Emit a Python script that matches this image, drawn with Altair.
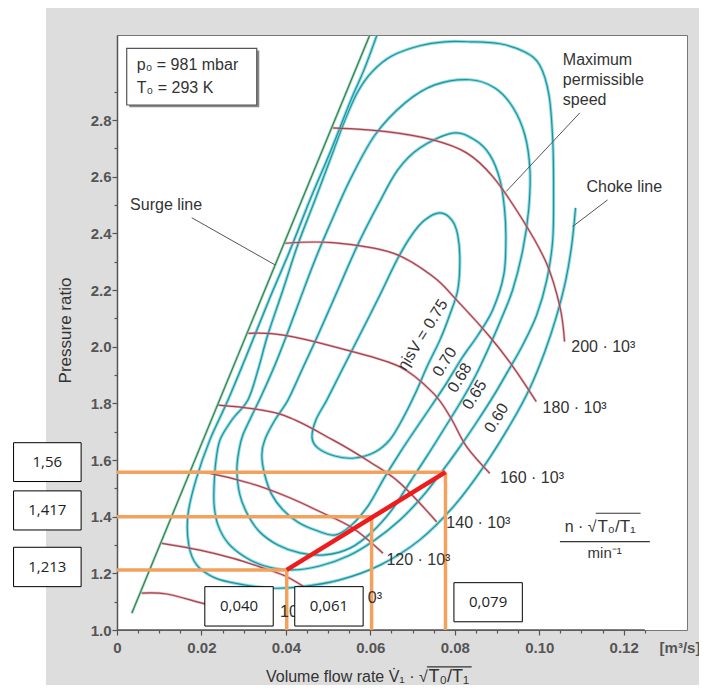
import altair as alt
import pandas as pd

FONT = "Liberation Sans"

# ---------------- values ----------------
# surge line
surge_x = [0.0035, 0.0598]
surge_y = [1.059, 3.097]

# speed lines  n*sqrt(T0/T1)  [min^-1]
r80_x = [0.0058, 0.0118, 0.0204, 0.0279]
r80_y = [1.130, 1.127, 1.094, 1.067]
r100_x = [0.0106, 0.0196, 0.0275, 0.0338, 0.0402, 0.0462]
r100_y = [1.306, 1.282, 1.253, 1.223, 1.188, 1.134]
r120_x = [0.0173, 0.0220, 0.0315, 0.0402, 0.0480, 0.0559, 0.0630]
r120_y = [1.559, 1.553, 1.518, 1.471, 1.418, 1.359, 1.271]
r140_x = [0.0239, 0.0386, 0.0511, 0.0599, 0.0670, 0.0757]
r140_y = [1.794, 1.762, 1.671, 1.593, 1.519, 1.382]
r160_x = [0.0311, 0.0394, 0.0544, 0.0670, 0.0749, 0.0790, 0.0828, 0.0883]
r160_y = [2.047, 2.041, 1.988, 1.929, 1.836, 1.750, 1.647, 1.553]
r180_x = [0.0398, 0.0512, 0.0654, 0.0749, 0.0804, 0.0883, 0.0938, 0.0993]
r180_y = [2.365, 2.367, 2.330, 2.247, 2.165, 2.035, 1.929, 1.806]
r200_x = [0.0511, 0.0638, 0.0748, 0.0828, 0.0890, 0.0961, 0.1017, 0.1049, 0.1060]
r200_y = [2.772, 2.759, 2.730, 2.684, 2.600, 2.447, 2.295, 2.141, 2.018]

# efficiency contours (closed islands)
c75_x = [0.0765, 0.0793, 0.0807, 0.0812, 0.0807, 0.0788, 0.0765, 0.0736, 0.0705, 0.0675,
         0.0646, 0.0611, 0.0563, 0.0516, 0.0476, 0.0462, 0.0471, 0.0497, 0.0533, 0.0575,
         0.0623, 0.0663, 0.0698, 0.0729]
c75_y = [2.472, 2.447, 2.394, 2.306, 2.200, 2.112, 2.024, 1.935, 1.830, 1.741,
         1.671, 1.628, 1.607, 1.614, 1.642, 1.678, 1.741, 1.812, 1.918, 2.041,
         2.183, 2.306, 2.394, 2.447]
c70_x = [0.0795, 0.0847, 0.0883, 0.0907, 0.0918, 0.0921, 0.0916, 0.0890, 0.0855, 0.0817,
         0.0782, 0.0746, 0.0709, 0.0671, 0.0633, 0.0596, 0.0556, 0.0516, 0.0469, 0.0428,
         0.0393, 0.0367, 0.0350, 0.0343, 0.0350, 0.0374, 0.0405, 0.0438, 0.0476, 0.0523,
         0.0570, 0.0618, 0.0665, 0.0717]
c70_y = [2.754, 2.730, 2.677, 2.589, 2.483, 2.377, 2.253, 2.130, 2.041, 1.960,
         1.875, 1.794, 1.713, 1.628, 1.537, 1.441, 1.371, 1.335, 1.353, 1.381,
         1.424, 1.477, 1.547, 1.618, 1.671, 1.741, 1.812, 1.918, 2.041, 2.200,
         2.359, 2.500, 2.624, 2.701]
c68_x = [0.0836, 0.0895, 0.0937, 0.0966, 0.0978, 0.0975, 0.0961, 0.0937, 0.0907, 0.0878,
         0.0850, 0.0817, 0.0776, 0.0736, 0.0694, 0.0651, 0.0604, 0.0552, 0.0492, 0.0433,
         0.0381, 0.0338, 0.0310, 0.0291, 0.0284, 0.0289, 0.0298, 0.0320, 0.0343, 0.0374,
         0.0402, 0.0433, 0.0469, 0.0504, 0.0552, 0.0611, 0.0682, 0.0753]
c68_y = [2.942, 2.913, 2.846, 2.747, 2.624, 2.483, 2.341, 2.200, 2.087, 1.988,
         1.900, 1.812, 1.713, 1.618, 1.522, 1.424, 1.346, 1.289, 1.265, 1.272,
         1.300, 1.346, 1.406, 1.477, 1.565, 1.635, 1.688, 1.759, 1.830, 1.935,
         2.041, 2.165, 2.306, 2.430, 2.589, 2.747, 2.860, 2.924]
c65_x = [0.0836, 0.0907, 0.0966, 0.1001, 0.1023, 0.1032, 0.1034, 0.1032, 0.1018, 0.0994,
         0.0961, 0.0925, 0.0890, 0.0852, 0.0812, 0.0769, 0.0722, 0.0670, 0.0611, 0.0547,
         0.0480, 0.0414, 0.0350, 0.0303, 0.0263, 0.0239, 0.0230, 0.0230, 0.0234, 0.0244,
         0.0272, 0.0310, 0.0334, 0.0357, 0.0393, 0.0428, 0.0469, 0.0509, 0.0540, 0.0570,
         0.0604, 0.0651, 0.0717, 0.0776]
c65_y = [3.076, 3.069, 3.040, 2.994, 2.889, 2.730, 2.553, 2.377, 2.236, 2.112,
         2.006, 1.911, 1.822, 1.734, 1.646, 1.558, 1.469, 1.388, 1.318, 1.261,
         1.226, 1.212, 1.226, 1.258, 1.307, 1.371, 1.441, 1.512, 1.593, 1.671,
         1.741, 1.812, 1.918, 2.041, 2.200, 2.359, 2.518, 2.677, 2.800, 2.899,
         2.970, 3.026, 3.062, 3.076]
# outermost contour, open, ending in the choke line
c60_x = [0.0615, 0.0585, 0.0554, 0.0507, 0.0457, 0.0410, 0.0360, 0.0312, 0.0263, 0.0220,
         0.0187, 0.0168, 0.0170, 0.0189, 0.0232, 0.0291, 0.0362, 0.0433, 0.0528, 0.0623,
         0.0717, 0.0800, 0.0871, 0.0935, 0.0978, 0.1013, 0.1041, 0.1063, 0.1077, 0.1086]
c60_y = [3.097, 2.977, 2.871, 2.694, 2.518, 2.341, 2.165, 1.988, 1.812, 1.671,
         1.530, 1.406, 1.300, 1.229, 1.184, 1.162, 1.148, 1.152, 1.177, 1.229,
         1.318, 1.441, 1.582, 1.734, 1.854, 1.981, 2.108, 2.236, 2.359, 2.490]

# operating points (drawn positions) and their annotations
op_vx = [0.0402, 0.0603, 0.0778]
op_hy = [1.212, 1.400, 1.557]
op_x_text = ["0,040", "0,061", "0,079"]
op_y_text = ["1,213", "1,417", "1,56"]

# speed line labels (the two lowest are mostly covered by the boxes: visible parts only)
spd_text = ["10", "0³", "120 · 10³", "140 · 10³", "160 · 10³", "180 · 10³", "200 · 10³"]
spd_lx = [0.0386, 0.0594, 0.0638, 0.0780, 0.0907, 0.1008, 0.1076]
spd_ly = [1.064, 1.113, 1.247, 1.378, 1.537, 1.784, 1.999]

# efficiency labels
eff_text = ["ηisV = 0.75", "0.70", "0.68", "0.65", "0.60"]
eff_lx = [0.0724, 0.0776, 0.0812, 0.0847, 0.0899]
eff_ly = [2.041, 1.946, 1.890, 1.830, 1.748]

# ---------------- frames ----------------
def path(name, xs, ys):
    return pd.DataFrame({"x": xs, "y": ys, "s": name, "i": list(range(len(xs)))})

closed_df = pd.concat([path("0.75", c75_x, c75_y), path("0.70", c70_x, c70_y),
                       path("0.68", c68_x, c68_y), path("0.65", c65_x, c65_y)])
open_df = path("0.60", c60_x, c60_y)
speed_df = pd.concat([path("80", r80_x, r80_y), path("100", r100_x, r100_y),
                      path("120", r120_x, r120_y), path("140", r140_x, r140_y),
                      path("160", r160_x, r160_y), path("180", r180_x, r180_y),
                      path("200", r200_x, r200_y)])
surge_df = path("surge", surge_x, surge_y)

xsc = alt.Scale(domain=[0, 0.135], nice=False, zero=False)
ysc = alt.Scale(domain=[1.0, 3.1], nice=False, zero=False)

x_ticks = [round(0.005 * i, 3) for i in range(26)]
y_ticks = [round(1.0 + 0.1 * i, 1) for i in range(20)]

xaxis = alt.Axis(
    values=x_ticks, title=None, grid=False, domain=False,
    labelExpr="round(datum.value*1000) % 20 == 0 ? (datum.value == 0 ? '0' : format(datum.value, '.2f')) : ''",
    tickSize={"condition": {"test": "round(datum.value*1000) % 20 == 0", "value": 5}, "value": 3},
    tickColor="#555", tickWidth=1.2, labelFont=FONT, labelFontSize=15, labelFontWeight="bold",
    labelColor="#555", labelPadding=5, labelOverlap=False, labelFlush=False,
)
yaxis = alt.Axis(
    values=y_ticks, grid=False, domain=True, domainColor="#555", domainWidth=1.5,
    labelExpr="round(datum.value*10) % 2 == 0 ? format(datum.value, '.1f') : ''",
    tickSize={"condition": {"test": "round(datum.value*10) % 2 == 0", "value": 5}, "value": 3},
    tickColor="#555", tickWidth=1.2, labelFont=FONT, labelFontSize=15, labelFontWeight="bold",
    labelColor="#555", labelPadding=1, labelOverlap=False, labelFlush=False,
    title="Pressure ratio", titleFont=FONT, titleFontSize=17, titleFontWeight="normal",
    titleColor="#333", titleAngle=270, titleX=-52, titleY=295, titleAlign="center",
    titleBaseline="middle",
)
X = alt.X("x:Q", scale=xsc, axis=xaxis)
Y = alt.Y("y:Q", scale=ysc, axis=yaxis)

one = pd.DataFrame({"a": [0]})
layers = []

# white strip at far left of the picture
layers.append(alt.Chart(one).mark_rect(color="white").encode(
    x=alt.value(-109), x2=alt.value(-71), y=alt.value(-27), y2=alt.value(650)))

# info box with shadow
info = pd.DataFrame({"x": [0.0023], "x2": [0.0331], "y": [2.853], "y2": [3.053]})
shadow = pd.DataFrame({"x": [0.0029], "x2": [0.0337], "y": [2.845], "y2": [3.045]})
layers.append(alt.Chart(shadow).mark_rect(color="#888").encode(
    x=X, x2="x2:Q", y=Y, y2="y2:Q"))
layers.append(alt.Chart(info).mark_rect(fill="white", stroke="#555", strokeWidth=1.2).encode(
    x=X, x2="x2:Q", y=Y, y2="y2:Q"))
info_t = pd.DataFrame({"x": [0.0047, 0.0047], "y": [2.994, 2.912],
                       "t": ["p₀ = 981 mbar", "T₀ = 293 K"]})
layers.append(alt.Chart(info_t).mark_text(font=FONT, fontSize=16, color="#333", align="left",
                                          baseline="middle").encode(x=X, y=Y, text="t:N"))

# efficiency contours: halo + core
for data, interp in [(closed_df, "cardinal-closed"), (open_df, "cardinal")]:
    layers.append(alt.Chart(data).mark_line(interpolate=interp, color="#6fd3dc", strokeWidth=3.2,
                                            opacity=0.8).encode(
        x=X, y=Y, detail="s:N", order="i:Q"))
    layers.append(alt.Chart(data).mark_line(interpolate=interp, color="#23909c", strokeWidth=1.2).encode(
        x=X, y=Y, detail="s:N", order="i:Q"))

# speed lines
layers.append(alt.Chart(speed_df).mark_line(interpolate="cardinal", color="#d98a92", strokeWidth=2.6,
                                            opacity=0.6).encode(x=X, y=Y, detail="s:N", order="i:Q"))
layers.append(alt.Chart(speed_df).mark_line(interpolate="cardinal", color="#a3444e", strokeWidth=1.2).encode(
    x=X, y=Y, detail="s:N", order="i:Q"))

# surge line
layers.append(alt.Chart(surge_df).mark_line(color="#8fd0a8", strokeWidth=2.8, opacity=0.7).encode(
    x=X, y=Y, order="i:Q"))
layers.append(alt.Chart(surge_df).mark_line(color="#2f7f58", strokeWidth=1.2).encode(
    x=X, y=Y, order="i:Q"))

# leader lines
leads = pd.DataFrame({"x": [0.0177, 0.1096, 0.1162], "x2": [0.0374, 0.0922, 0.1079],
                      "y": [2.455, 2.825, 2.518], "y2": [2.289, 2.548, 2.424]})
layers.append(alt.Chart(leads).mark_rule(color="#555", strokeWidth=1).encode(
    x=X, x2="x2:Q", y=Y, y2="y2:Q"))

# x axis line up to 0.125
xline = pd.DataFrame({"x": [0.0], "x2": [0.125], "y": [1.0]})
layers.append(alt.Chart(xline).mark_rule(color="#555", strokeWidth=1.5).encode(x=X, x2="x2:Q", y=Y))

# orange construction lines
hl = pd.DataFrame({"x": [0.0, 0.0, 0.0], "x2": op_vx, "y": op_hy})
vl = pd.DataFrame({"x": op_vx, "y": [1.0, 1.0, 1.0], "y2": op_hy})
layers.append(alt.Chart(hl).mark_rule(color="#f2a25c", strokeWidth=3.5).encode(x=X, x2="x2:Q", y=Y))
layers.append(alt.Chart(vl).mark_rule(color="#f2a25c", strokeWidth=3.5).encode(x=X, y=Y, y2="y2:Q"))

# red operating line
red_df = path("op", [op_vx[0], op_vx[2]], [op_hy[0], op_hy[2]])
layers.append(alt.Chart(red_df).mark_line(color="#ee1c1c", strokeWidth=4.5).encode(
    x=X, y=Y, order="i:Q"))

# speed labels
spd_df = pd.DataFrame({"x": spd_lx, "y": spd_ly, "t": spd_text})
layers.append(alt.Chart(spd_df).mark_text(font=FONT, fontSize=16, color="#333", align="left",
                                          baseline="middle").encode(x=X, y=Y, text="t:N"))

# efficiency labels
eff_df = pd.DataFrame({"x": eff_lx, "y": eff_ly, "t": eff_text})
layers.append(alt.Chart(eff_df).mark_text(font=FONT, fontSize=16, color="#333", align="center",
                                          baseline="middle", angle=302).encode(x=X, y=Y, text="t:N"))

# other annotation texts
misc = pd.DataFrame({
    "x": [0.0031, 0.1112, 0.1056, 0.1056, 0.1056],
    "y": [2.500, 2.565, 3.012, 2.942, 2.871],
    "t": ["Surge line", "Choke line", "Maximum", "permissible", "speed"]})
layers.append(alt.Chart(misc).mark_text(font=FONT, fontSize=16, color="#333", align="left",
                                        baseline="middle").encode(x=X, y=Y, text="t:N"))

# speed legend fraction
num1 = pd.DataFrame({"x": [0.1136], "y": [1.365], "t": ["n · √"]})
num2 = pd.DataFrame({"x": [0.1138], "y": [1.365], "t": ["T₀/T₁"]})
den = pd.DataFrame({"x": [0.1155], "y": [1.272], "t": ["min⁻¹"]})
layers.append(alt.Chart(num1).mark_text(font=FONT, fontSize=16, color="#333", align="right",
                                        baseline="middle").encode(x=X, y=Y, text="t:N"))
layers.append(alt.Chart(num2).mark_text(font=FONT, fontSize=17, color="#333", align="left",
                                        baseline="middle").encode(x=X, y=Y, text="t:N"))
layers.append(alt.Chart(den).mark_text(font=FONT, fontSize=15, color="#333", align="center",
                                       baseline="middle").encode(x=X, y=Y, text="t:N"))
bars = pd.DataFrame({"x": [0.1049, 0.1134], "x2": [0.1262, 0.1240], "y": [1.312, 1.412]})
layers.append(alt.Chart(bars).mark_rule(color="#333", strokeWidth=1.2).encode(x=X, x2="x2:Q", y=Y))

# x axis title and unit
xt1 = pd.DataFrame({"x": [0.0736], "y": [0.835], "t": ["Volume flow rate V̇₁ · √"]})
xt2 = pd.DataFrame({"x": [0.0738], "y": [0.835], "t": ["T₀/T₁"]})
layers.append(alt.Chart(xt1).mark_text(font=FONT, fontSize=16, color="#333", align="right",
                                       baseline="middle").encode(x=X, y=Y, text="t:N"))
layers.append(alt.Chart(xt2).mark_text(font=FONT, fontSize=18, color="#333", align="left",
                                       baseline="middle").encode(x=X, y=Y, text="t:N"))
xbar = pd.DataFrame({"x": [0.0734], "x2": [0.0840], "y": [0.870]})
layers.append(alt.Chart(xbar).mark_rule(color="#333", strokeWidth=1.2).encode(x=X, x2="x2:Q", y=Y))
unit = pd.DataFrame({"x": [0.1285], "y": [0.936], "t": ["[m³/s]"]})
layers.append(alt.Chart(unit).mark_text(font=FONT, fontSize=15, fontWeight="bold", color="#555",
                                        align="left", baseline="middle").encode(x=X, y=Y, text="t:N"))

# annotation boxes
ann = pd.DataFrame({
    "x": [-0.0245, -0.0245, -0.0245, 0.0208, 0.0421, 0.0798],
    "x2": [-0.0085, -0.0085, -0.0085, 0.0370, 0.0583, 0.0960],
    "y": [1.524, 1.353, 1.153, 1.014, 1.014, 1.029],
    "y2": [1.661, 1.491, 1.292, 1.153, 1.153, 1.167],
    "t": [op_y_text[2], op_y_text[1], op_y_text[0], op_x_text[0], op_x_text[1], op_x_text[2]],
})
ann["cx"] = (ann["x"] + ann["x2"]) / 2
ann["cy"] = (ann["y"] + ann["y2"]) / 2
layers.append(alt.Chart(ann).mark_rect(fill="white", stroke="black", strokeWidth=1).encode(
    x=X, x2="x2:Q", y=Y, y2="y2:Q"))
layers.append(alt.Chart(ann).mark_text(font="Open Sans", fontSize=15, color="#222", align="center",
                                       baseline="middle").encode(
    x=alt.X("cx:Q", scale=xsc, axis=xaxis), y=alt.Y("cy:Q", scale=ysc, axis=yaxis), text="t:N"))

chart = alt.layer(*layers).properties(
    width=570, height=595,
    autosize=alt.AutoSizeParams(type="none"),
    padding={"left": 109, "top": 27, "right": 12, "bottom": 55},
    background="#dddddd",
).configure_view(fill="white", stroke="#777", strokeWidth=1)

chart.save("out.html", embed_options={"renderer": "svg", "actions": False})
